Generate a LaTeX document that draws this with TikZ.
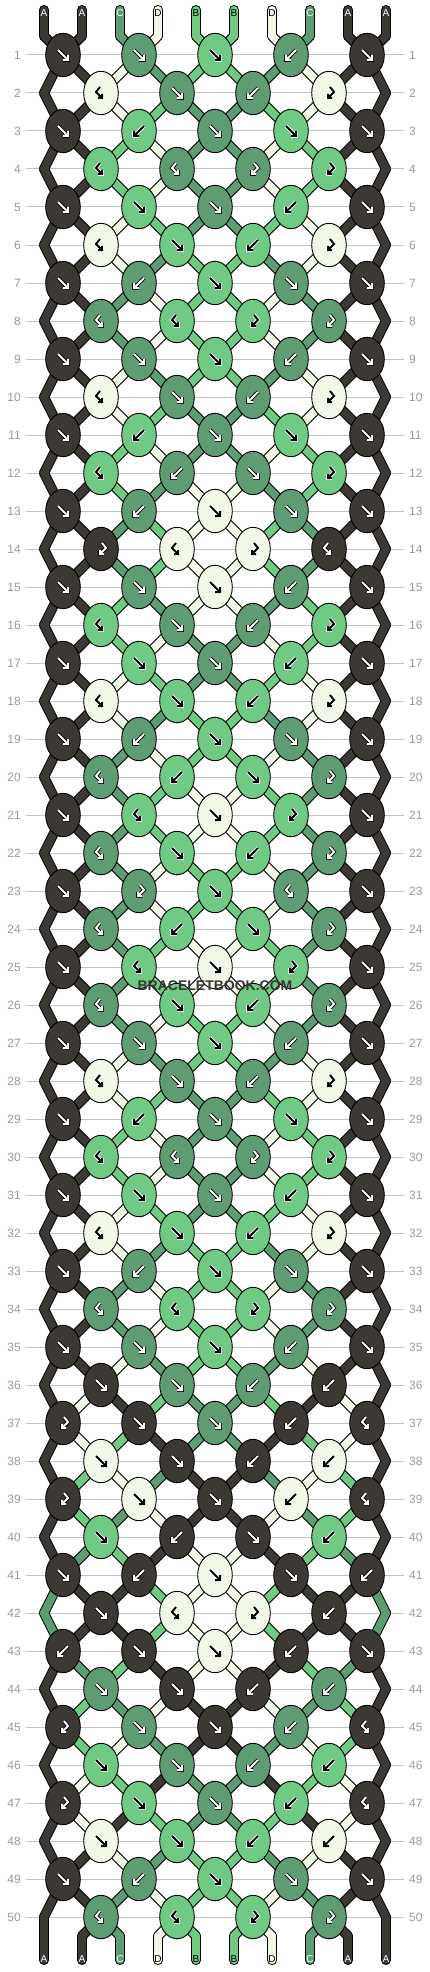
\documentclass[tikz,border=0pt]{standalone}
\usepackage{fontspec}
\setmainfont{Liberation Sans}
\usetikzlibrary{shapes.geometric}
\definecolor{cA}{HTML}{3C3935}
\definecolor{cB}{HTML}{70CA84}
\definecolor{cC}{HTML}{5E9C74}
\definecolor{cD}{HTML}{F1F8E8}
\colorlet{aiA}{white}\colorlet{aoA}{black}
\colorlet{aiC}{white}\colorlet{aoC}{black}
\colorlet{aiB}{black}\colorlet{aoB}{white}
\colorlet{aiD}{black}\colorlet{aoD}{white}
\colorlet{ltA}{white}\colorlet{ltC}{white}
\colorlet{ltB}{black}\colorlet{ltD}{black}
\definecolor{rowgray}{HTML}{C2C2C2}
\definecolor{numgray}{HTML}{9A9A9A}
\definecolor{wmgray}{HTML}{383838}

\newcommand\nodeof[2]{%
  \ifnum#1=0 \edef\nodename{tb-#2}%
  \else\ifnum#1=51 \edef\nodename{bb-#2}%
  \else
    \ifodd#1 \pgfmathtruncatemacro\npp{2*floor((#2-1)/2)+1}%
    \else \pgfmathtruncatemacro\npp{2*floor(#2/2)}\fi
    \edef\nodename{k-#1-\npp}%
  \fi\fi}

\newcommand\drawicon[3]{%
  \if f#1%
    \draw[iconout,draw=#3] (-5,-5) -- (5,5) (0,5) -- (5,5) -- (5,0);
    \draw[iconin,draw=#2] (-5,-5) -- (5,5) (0,5) -- (5,5) -- (5,0);
  \fi
  \if b#1%
    \draw[iconout,draw=#3] (5,-5) -- (-5,5) (0,5) -- (-5,5) -- (-5,0);
    \draw[iconin,draw=#2] (5,-5) -- (-5,5) (0,5) -- (-5,5) -- (-5,0);
  \fi
  \if y#1%
    \draw[iconout,draw=#3] (-1,-6) -- (-5,-1) -- (1,5) (-3,5) -- (1,5) -- (1,1);
    \draw[iconin,draw=#2] (-1,-6) -- (-5,-1) -- (1,5) (-3,5) -- (1,5) -- (1,1);
  \fi
  \if x#1%
    \draw[iconout,draw=#3] (1,-6) -- (5,-1) -- (-1,5) (3,5) -- (-1,5) -- (-1,1);
    \draw[iconin,draw=#2] (1,-6) -- (5,-1) -- (-1,5) (3,5) -- (-1,5) -- (-1,1);
  \fi}

\def\statelist{%
{A,A,C,D,B,B,D,C,A,A},%
{A,A,D,C,B,B,C,D,A,A},%
{A,A,D,B,C,C,B,D,A,A},%
{A,A,B,D,C,C,D,B,A,A},%
{A,A,B,D,C,C,D,B,A,A},%
{A,A,D,B,C,C,B,D,A,A},%
{A,A,D,C,B,B,C,D,A,A},%
{A,A,C,D,B,B,D,C,A,A},%
{A,A,C,D,B,B,D,C,A,A},%
{A,A,D,C,B,B,C,D,A,A},%
{A,A,D,B,C,C,B,D,A,A},%
{A,A,B,D,C,C,D,B,A,A},%
{A,A,B,C,D,D,C,B,A,A},%
{A,A,C,B,D,D,B,C,A,A},%
{A,A,C,B,D,D,B,C,A,A},%
{A,A,B,C,D,D,C,B,A,A},%
{A,A,B,D,C,C,D,B,A,A},%
{A,A,D,B,C,C,B,D,A,A},%
{A,A,D,C,B,B,C,D,A,A},%
{A,A,C,D,B,B,D,C,A,A},%
{A,A,C,B,D,D,B,C,A,A},%
{A,A,C,B,D,D,B,C,A,A},%
{A,A,C,D,B,B,D,C,A,A},%
{A,A,C,D,B,B,D,C,A,A},%
{A,A,C,B,D,D,B,C,A,A},%
{A,A,C,B,D,D,B,C,A,A},%
{A,A,C,D,B,B,D,C,A,A},%
{A,A,D,C,B,B,C,D,A,A},%
{A,A,D,B,C,C,B,D,A,A},%
{A,A,B,D,C,C,D,B,A,A},%
{A,A,B,D,C,C,D,B,A,A},%
{A,A,D,B,C,C,B,D,A,A},%
{A,A,D,C,B,B,C,D,A,A},%
{A,A,C,D,B,B,D,C,A,A},%
{A,A,C,D,B,B,D,C,A,A},%
{A,A,D,C,B,B,C,D,A,A},%
{A,D,A,B,C,C,B,A,D,A},%
{A,D,B,A,C,C,A,B,D,A},%
{A,B,D,C,A,A,C,D,B,A},%
{A,B,C,D,A,A,D,C,B,A},%
{A,C,B,A,D,D,A,B,C,A},%
{C,A,A,B,D,D,B,A,A,C},%
{C,A,A,B,D,D,B,A,A,C},%
{A,C,B,A,D,D,A,B,C,A},%
{A,B,C,D,A,A,D,C,B,A},%
{A,B,D,C,A,A,C,D,B,A},%
{A,D,B,A,C,C,A,B,D,A},%
{A,D,A,B,C,C,B,A,D,A},%
{A,A,D,C,B,B,C,D,A,A},%
{A,A,C,D,B,B,D,C,A,A},%
{A,A,C,D,B,B,D,C,A,A}}

\def\typelist{%
{f,f,f,b,f},{y,f,b,x},{f,b,f,f,f},{y,y,x,x},{f,f,f,b,f},%
{y,f,b,x},{f,b,f,f,f},{y,y,x,x},{f,f,f,b,f},{y,f,b,x},%
{f,b,f,f,f},{y,b,f,x},{f,b,f,f,f},{x,y,x,y},{f,f,f,b,f},%
{y,f,b,x},{f,f,f,b,f},{y,f,b,x},{f,b,f,f,f},{y,b,f,x},%
{f,y,f,x,f},{y,f,b,x},{f,x,f,y,f},{y,b,f,x},{f,y,f,x,f},%
{y,f,b,x},{f,f,f,b,f},{y,f,b,x},{f,b,f,f,f},{y,y,x,x},%
{f,f,f,b,f},{y,f,b,x},{f,b,f,f,f},{y,y,x,x},{f,f,f,b,f},%
{f,f,b,b},{x,f,f,b,y},{f,f,b,b},{x,f,f,b,y},{f,b,f,b},%
{f,b,f,f,b},{f,y,x,b},{b,f,f,b,f},{f,f,b,b},{x,f,f,b,y},%
{f,f,b,b},{x,f,f,b,y},{f,f,b,b},{f,b,f,f,f},{y,y,x,x}}

\begin{document}
\begin{tikzpicture}[x=1pt,y=-1pt,
  knot/.style={ellipse, draw=black, line width=0.9, minimum width=34.6, minimum height=43.4, inner sep=0},
  rowline/.style={draw=rowgray, line width=1},
  rownum/.style={text=numgray, font=\fontsize{12}{12}\selectfont, inner sep=0},
  strlabel/.style={font=\fontsize{10}{10}\selectfont, inner sep=0},
  strback/.style={draw=black, line width=10, line cap=round, line join=round},
  strfront/.style={line width=8, line cap=round, line join=round},
  iconout/.style={line width=3.6, line cap=square, line join=miter},
  iconin/.style={line width=2, line cap=butt, line join=miter}]
\fill[white] (0,0) rectangle (430,1972);
\useasboundingbox (0,0) rectangle (430,1972);

% states
\foreach \st [count=\rr from 0] in \statelist {
  \foreach \sl [count=\si] in \st {
    \expandafter\xdef\csname s-\rr-\si\endcsname{\sl}
  }
}

% row lines and numbers
\foreach \rr in {1,...,50} {
  \pgfmathsetmacro\yy{55+38*(\rr-1)}
  \draw[rowline] (26,\yy) -- (404,\yy);
  \node[rownum, anchor=east] (ll-\rr) at (21,\yy) {\rr};
  \node[rownum, anchor=west] (lr-\rr) at (409,\yy) {\rr};
}

% coordinates
\foreach \rr in {1,...,50} {
  \pgfmathsetmacro\yy{55+38*(\rr-1)}
  \ifodd\rr
    \foreach \pl in {1,3,5,7,9} { \coordinate (k-\rr-\pl) at ({63+38*(\pl-1)},\yy); }
  \else
    \foreach \pl in {2,4,6,8} { \coordinate (k-\rr-\pl) at ({63+38*(\pl-1)},\yy); }
    \coordinate (k-\rr-0) at (44,\yy);
    \coordinate (k-\rr-10) at (386,\yy);
  \fi
}
\foreach \si in {1,...,10} {
  \pgfmathsetmacro\xx{44+38*(\si-1)}
  \coordinate (t-\si) at (\xx,10);
  \coordinate (tb-\si) at (\xx,36);
  \coordinate (bb-\si) at (\xx,1936);
  \coordinate (b-\si) at (\xx,1960);
}

% strings
\foreach \pass in {1,2} {
  \foreach \rr in {0,...,50} {
    \pgfmathtruncatemacro\nrr{\rr+1}
    \foreach \si in {1,...,10} {
      \nodeof{\rr}{\si}\let\na\nodename
      \nodeof{\nrr}{\si}\let\nb\nodename
      \edef\sc{c\csname s-\rr-\si\endcsname}
      \ifnum\pass=1 \draw[strback] (\na) -- (\nb);
      \else \draw[strfront, draw=\sc] (\na) -- (\nb);\fi
    }
  }
  \foreach \si in {1,...,10} {
    \edef\sc{c\csname s-0-\si\endcsname}
    \edef\se{c\csname s-50-\si\endcsname}
    \ifnum\pass=1
      \draw[strback] (t-\si) -- (tb-\si);
      \draw[strback] (bb-\si) -- (b-\si);
    \else
      \draw[strfront, draw=\sc] (t-\si) -- (tb-\si);
      \draw[strfront, draw=\se] (bb-\si) -- (b-\si);
    \fi
  }
}

% knots
\foreach \trow [count=\rr] in \typelist {
  \pgfmathtruncatemacro\prr{\rr-1}
  \foreach \kt [count=\kk] in \trow {
    \ifodd\rr \pgfmathtruncatemacro\pl{2*\kk-1}\else \pgfmathtruncatemacro\pl{2*\kk}\fi
    \pgfmathtruncatemacro\pq{\pl+1}
    \edef\kc{\csname s-\prr-\pq\endcsname}
    \if f\kt \edef\kc{\csname s-\prr-\pl\endcsname}\fi
    \if x\kt \edef\kc{\csname s-\prr-\pl\endcsname}\fi
    \edef\kf{c\kc}\edef\ki{ai\kc}\edef\ko{ao\kc}
    \node[knot, fill=\kf] (kn-\rr-\pl) at (k-\rr-\pl) {};
    \begin{scope}[shift={(k-\rr-\pl)}]
      \drawicon{\kt}{\ki}{\ko}
    \end{scope}
  }
}

% string labels
\foreach \sl [count=\si] in {A,A,C,D,B,B,D,C,A,A} {
  \pgfmathsetmacro\xx{44+38*(\si-1)}
  \edef\lc{lt\sl}
  \node[strlabel, text=\lc] (tl-\si) at (\xx,13) {\sl};
  \node[strlabel, text=\lc] (bl-\si) at (\xx,1959) {\sl};
}

\node[font=\bfseries\fontsize{14}{14}\selectfont, text=wmgray, inner sep=0] (wm) at (215,986) {BRACELETBOOK.COM};
\end{tikzpicture}
\end{document}
